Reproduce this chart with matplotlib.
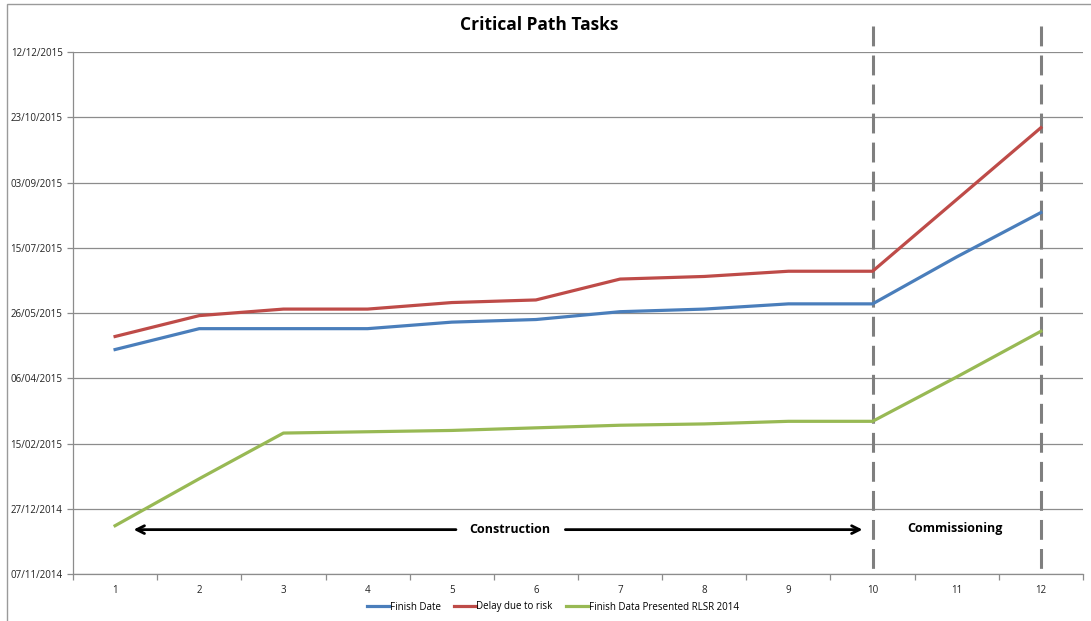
import numpy as np
import pandas as pd
import matplotlib
matplotlib.use("Agg")
import matplotlib.pyplot as plt
import matplotlib.dates as mdates
from matplotlib.patches import Rectangle

plt.rcParams['font.family'] = ['Open Sans', 'DejaVu Sans']

# task index on the x axis
tasks = list(range(1, 13))

finish_date = ["2015-04-28", "2015-05-14", "2015-05-14", "2015-05-14", "2015-05-19", "2015-05-21",
               "2015-05-27", "2015-05-29", "2015-06-02", "2015-06-02", "2015-07-08", "2015-08-11"]
delay_risk = ["2015-05-08", "2015-05-24", "2015-05-29", "2015-05-29", "2015-06-03", "2015-06-05",
              "2015-06-21", "2015-06-23", "2015-06-27", "2015-06-27", "2015-08-21", "2015-10-15"]
rlsr_2014 = ["2014-12-14", "2015-01-19", "2015-02-23", "2015-02-24", "2015-02-25", "2015-02-27",
             "2015-03-01", "2015-03-02", "2015-03-04", "2015-03-04", "2015-04-07", "2015-05-12"]

series_names = ["Finish Date", "Delay due to risk", "Finish Data Presented RLSR 2014"]
series_colors = ["#4A7EBB", "#BE4B48", "#98B954"]

y_start = pd.Timestamp("2014-11-07")
y_end = pd.Timestamp("2015-12-12")
y_step_days = 50

fig = plt.figure(figsize=(10.91, 6.21), dpi=100)
ax = fig.add_axes([73 / 1091, 1 - 574 / 621, (1083 - 73) / 1091, (574 - 52) / 621])

for vals, name, col in zip([finish_date, delay_risk, rlsr_2014], series_names, series_colors):
    ax.plot(tasks, pd.to_datetime(vals), color=col, lw=2.3, label=name, solid_joinstyle='round')

# y axis: dates every 50 days
ax.set_ylim(y_start, y_end)
yticks = pd.date_range(y_start, y_end, freq=f"{y_step_days}D")
ax.set_yticks(yticks)
ax.yaxis.set_major_formatter(mdates.DateFormatter("%d/%m/%Y"))
ax.grid(axis='y', color='#8c8c8c', lw=0.9)
ax.set_axisbelow(True)

# x axis: category style, labels centred, ticks on boundaries
ax.set_xlim(0.5, 12.5)
ax.set_xticks(tasks)
ax.set_xticks(np.arange(0.5, 13, 1), minor=True)
ax.tick_params(axis='x', which='major', length=0, labelsize=7, pad=8, colors='#222222')
ax.tick_params(axis='x', which='minor', length=4, color='#8c8c8c', width=0.9)
ax.tick_params(axis='y', which='major', length=4, color='#8c8c8c', width=0.9, labelsize=7)
ax.tick_params(axis='y', labelcolor='#222222')

for s in ['top', 'right']:
    ax.spines[s].set_visible(False)
for s in ['left', 'bottom']:
    ax.spines[s].set_color('#8c8c8c')
    ax.spines[s].set_linewidth(0.9)

# phase boundaries, dashes drawn from the top down
top = (574 - 26) / (574 - 52)
for xv in [10, 12]:
    ax.plot([xv, xv], [top, 0], transform=ax.get_xaxis_transform(), color='#7f7f7f',
            lw=2.2, dashes=(6.5, 3), clip_on=False, zorder=1)

# phase labels with arrows
arrow_y = pd.Timestamp("2014-12-11")
ax.annotate("", xy=(1.22, arrow_y), xytext=(5.05, arrow_y),
            arrowprops=dict(arrowstyle='->', color='black', lw=2, mutation_scale=14,
                            shrinkA=0, shrinkB=0))
ax.annotate("", xy=(9.88, arrow_y), xytext=(6.35, arrow_y),
            arrowprops=dict(arrowstyle='->', color='black', lw=2, mutation_scale=14,
                            shrinkA=0, shrinkB=0))
ax.text(5.69, arrow_y, "Construction", ha='center', va='center', fontsize=9, fontweight='bold')
ax.text(10.98, pd.Timestamp("2014-12-12"), "Commissioning", ha='center', va='center',
        fontsize=9, fontweight='bold')

fig.text(539 / 1091, 1 - 25 / 621, "Critical Path Tasks", ha='center', va='center',
         fontsize=12.5, fontweight='bold')

fig.legend(loc='center', bbox_to_anchor=(553 / 1091, 1 - 607 / 621), ncol=3, frameon=False,
           fontsize=7, handlelength=2.2, handletextpad=0.1, columnspacing=1.4)

# chart frame
fig.add_artist(Rectangle((7 / 1091, -0.1), 1.2, 1 - 4 / 621 + 0.1, transform=fig.transFigure,
                         fill=False, edgecolor='#9a9a9a', lw=1))

fig.savefig("out.png", dpi=100)
